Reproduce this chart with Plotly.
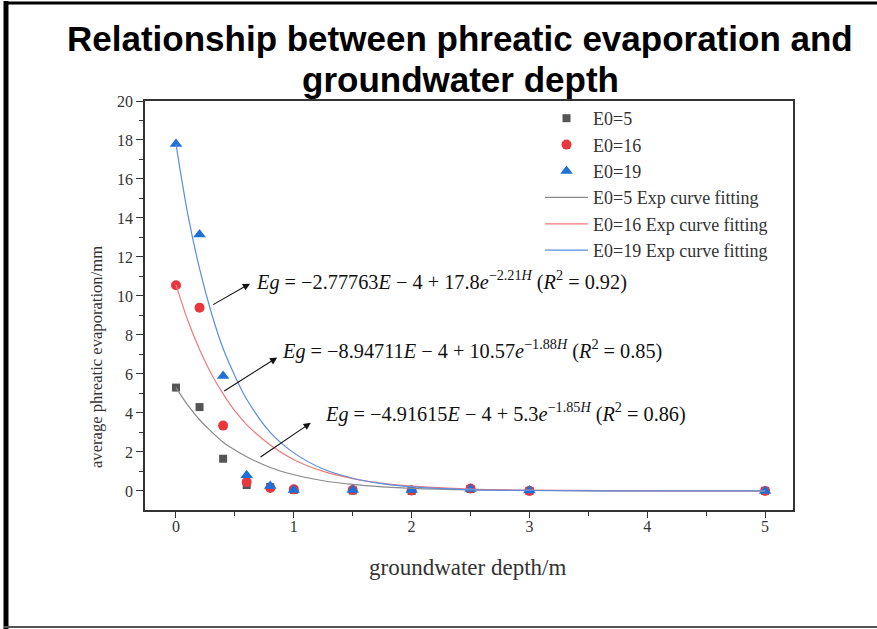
import plotly.graph_objects as go

# ---- data ----
depth = [0, 0.2, 0.4, 0.6, 0.8, 1.0, 1.5, 2.0, 2.5, 3.0, 5.0]
evap_e5 = [5.3, 4.3, 1.65, 0.3, 0.2, 0.05, 0.02, 0.0, 0.1, 0.0, 0.0]
evap_e16 = [10.55, 9.4, 3.35, 0.45, 0.15, 0.08, 0.05, 0.02, 0.12, 0.0, 0.0]
evap_e19 = [17.8, 13.15, 5.9, 0.8, 0.25, 0.05, 0.05, 0.05, 0.1, 0.02, 0.0]

fit_depth = [0, 0.1, 0.2, 0.3, 0.4, 0.5, 0.6, 0.8, 1.0, 1.25, 1.5, 1.75, 2.0, 2.5, 3.0, 4.0, 5.0]
fit_e5 = [5.3, 4.4, 3.65, 3.05, 2.5, 2.1, 1.75, 1.2, 0.83, 0.52, 0.33, 0.21, 0.13, 0.05, 0.02, 0.0, 0.0]
fit_e16 = [10.57, 8.75, 7.25, 6.0, 4.98, 4.1, 3.4, 2.35, 1.6, 1.0, 0.63, 0.39, 0.24, 0.09, 0.04, 0.0, 0.0]
fit_e19 = [17.8, 14.2, 11.4, 9.14, 7.3, 5.9, 4.7, 3.0, 1.95, 1.12, 0.65, 0.37, 0.21, 0.07, 0.02, 0.0, 0.0]

series_names = ["E0=5", "E0=16", "E0=19"]
fit_names = ["E0=5 Exp curve fitting", "E0=16 Exp curve fitting", "E0=19 Exp curve fitting"]

equations = [
    "<i>Eg</i> = \u22122.77763<i>E</i> \u2212 4 + 17.8<i>e</i><sup>\u22122.21<i>H</i></sup> (<i>R</i><sup>2</sup> = 0.92)",
    "<i>Eg</i> = \u22128.94711<i>E</i> \u2212 4 + 10.57<i>e</i><sup>\u22121.88<i>H</i></sup> (<i>R</i><sup>2</sup> = 0.85)",
    "<i>Eg</i> = \u22124.91615<i>E</i> \u2212 4 + 5.3<i>e</i><sup>\u22121.85<i>H</i></sup> (<i>R</i><sup>2</sup> = 0.86)",
]
eq_pos = [(0.665, 10.8), (0.88, 7.25), (1.25, 4.0)]
arrow_tails = [(0.303, 9.51), (0.397, 5.08), (0.705, 1.69)]
arrow_heads = [(0.628, 10.63), (0.859, 6.84), (1.144, 3.49)]

title_lines = ["Relationship between phreatic evaporation and", "groundwater depth"]
x_title = "groundwater depth/m"
y_title = "average phreatic evaporation/mm"

# ---- styles ----
marker_colors = ["#555555", "#e8383d", "#1f6fd8"]
line_colors = ["#8a8a8a", "#f27a7a", "#5a8ee0"]
symbols = ["square", "circle", "triangle-up"]
sizes = [8, 10, 11]

fig = go.Figure()
for i, (ys, name) in enumerate(zip([evap_e5, evap_e16, evap_e19], series_names)):
    fig.add_trace(go.Scatter(
        x=depth, y=ys, mode="markers", name=name,
        marker=dict(symbol=symbols[i], size=sizes[i], color=marker_colors[i]),
    ))
for i, (ys, name) in enumerate(zip([fit_e5, fit_e16, fit_e19], fit_names)):
    fig.add_trace(go.Scatter(
        x=fit_depth, y=ys, mode="lines", name=name,
        line=dict(color=line_colors[i], width=1.2, shape="spline", smoothing=1.0),
    ))

L, R, T, B = 145, 84, 101, 119
W, H = 877, 629
pw, ph = W - L - R, H - T - B


def px(p):
    return (p - L) / pw


def py(q):
    return (H - B - q) / ph


serif = "Liberation Serif"
annotations = []
for text, (ex, ey) in zip(equations, eq_pos):
    annotations.append(dict(x=ex, y=ey, xref="x", yref="y", text=text, showarrow=False,
                            xanchor="left", yanchor="middle",
                            font=dict(family=serif, size=20.3, color="#111")))
for (tx, ty), (hx, hy) in zip(arrow_tails, arrow_heads):
    annotations.append(dict(x=hx, y=hy, ax=tx, ay=ty, xref="x", yref="y", axref="x", ayref="y",
                            text="", showarrow=True, arrowhead=2, arrowsize=1.3,
                            arrowwidth=1.1, arrowcolor="#111", standoff=0))
# title lines
annotations.append(dict(x=px(460), y=py(38), xref="paper", yref="paper", text="<b>" + title_lines[0] + "</b>",
                        showarrow=False, xanchor="center", yanchor="middle",
                        font=dict(family="Liberation Sans", size=35, color="#000")))
annotations.append(dict(x=px(460), y=py(80), xref="paper", yref="paper", text="<b>" + title_lines[1] + "</b>",
                        showarrow=False, xanchor="center", yanchor="middle",
                        font=dict(family="Liberation Sans", size=35, color="#000")))
# axis titles
annotations.append(dict(x=px(467), y=py(567), xref="paper", yref="paper", text=x_title,
                        showarrow=False, xanchor="center", yanchor="middle",
                        font=dict(family=serif, size=23, color="#333")))
annotations.append(dict(x=px(96), y=py(357), xref="paper", yref="paper", text=y_title, textangle=-90,
                        showarrow=False, xanchor="center", yanchor="middle",
                        font=dict(family=serif, size=16.6, color="#333")))

shapes = [
    dict(type="line", xref="paper", yref="paper", x0=px(6), x1=px(6), y0=py(1), y1=py(629),
         line=dict(color="#000", width=5)),
    dict(type="line", xref="paper", yref="paper", x0=px(4), x1=px(877), y0=py(3), y1=py(3),
         line=dict(color="#000", width=3)),
    dict(type="line", xref="paper", yref="paper", x0=px(4), x1=px(877), y0=py(627), y1=py(627),
         line=dict(color="#555", width=2)),
]

fig.update_layout(
    width=W, height=H,
    margin=dict(l=L, r=R, t=T, b=B),
    paper_bgcolor="white", plot_bgcolor="white",
    showlegend=True,
    legend=dict(x=px(540), y=py(100), xanchor="left", yanchor="top",
                bgcolor="rgba(0,0,0,0)", itemwidth=43, tracegroupgap=0,
                font=dict(family=serif, size=18, color="#333")),
    annotations=annotations,
    shapes=shapes,
)
fig.update_xaxes(
    range=[-0.263, 5.237], tickvals=[0, 1, 2, 3, 4, 5],
    showline=True, linecolor="#333", linewidth=1.6, mirror=True,
    ticks="outside", ticklen=6, tickwidth=1.3, tickcolor="#333",
    minor=dict(dtick=0.5, tick0=0, ticks="outside", ticklen=4, tickwidth=1.2, tickcolor="#333"),
    showgrid=False, zeroline=False, ticklabelstandoff=-5,
    tickfont=dict(family=serif, size=16, color="#333"),
)
fig.update_yaxes(
    range=[-0.98, 20], tickvals=list(range(0, 21, 2)),
    showline=True, linecolor="#333", linewidth=1.6, mirror=True,
    ticks="outside", ticklen=7, tickwidth=1.3, tickcolor="#333",
    minor=dict(dtick=1, tick0=0, ticks="outside", ticklen=4, tickwidth=1.2, tickcolor="#333"),
    showgrid=False, zeroline=False,
    tickfont=dict(family=serif, size=16, color="#333"),
)

fig.write_html("out.html")
